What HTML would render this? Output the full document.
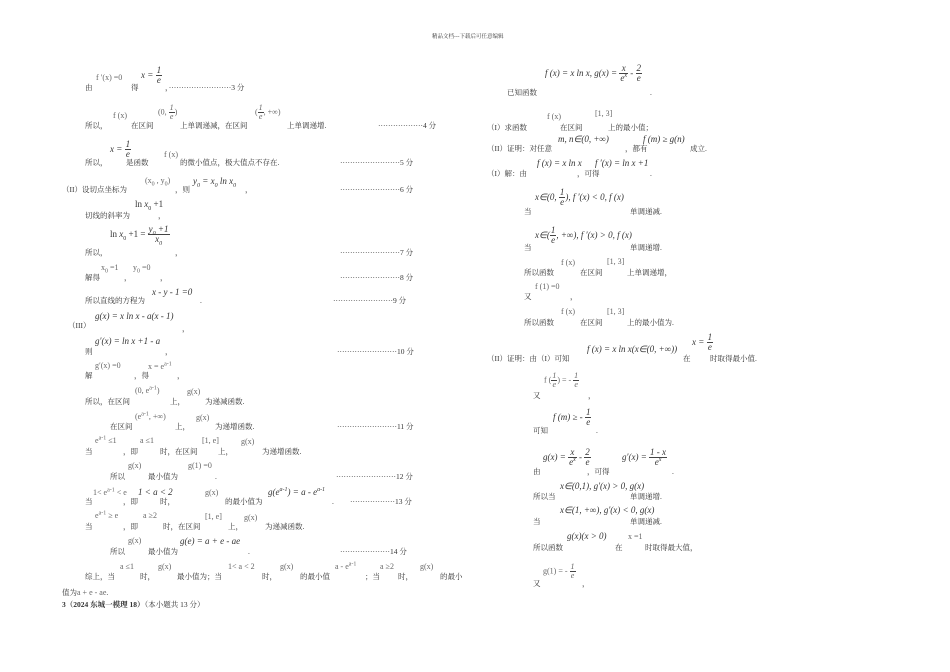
<!DOCTYPE html>
<html><head><meta charset="utf-8"><style>
body{margin:0;background:#fff;}
#p{position:relative;width:950px;height:672px;overflow:hidden;background:#fff;color:#222;font-family:"Liberation Serif","Noto Serif CJK SC",serif;}
#p>span{position:absolute;white-space:nowrap;line-height:1;}
span span{position:static;}
.c{font-size:7.5px;font-family:"Liberation Serif","Noto Serif CJK SC",serif;color:#333}
.m{font-size:9px;font-style:italic;font-family:"Liberation Serif",serif;color:#333}
.mg{font-size:8px;font-family:"Liberation Serif",serif;color:#666}
.f{display:inline-block;vertical-align:middle;text-align:center;font-style:italic;line-height:1.05}
.f b{display:block;font-weight:normal;padding:0 1px}
.f b:first-child{border-bottom:0.8px solid #444}
sub,sup{font-size:6px;line-height:0}
.b{font-weight:bold}
</style></head><body><div id="p">
<span class="c" style="left:432px;top:35px;font-size:5.5px">精品文档---下载后可任意编辑</span>

<span class="c" style="left:85px;top:84px">由</span>
<span class="mg" style="left:96px;top:74px">f ′(x) =0</span>
<span class="c" style="left:131px;top:84px">得</span>
<span class="m" style="left:141px;top:66px">x = <span class="f"><b>1</b><b>e</b></span></span>
<span class="c" style="left:165px;top:84px">，·························3 分</span>

<span class="c" style="left:85px;top:122px">所以，</span>
<span class="mg" style="left:113px;top:112px">f (x)</span>
<span class="c" style="left:131px;top:122px">在区间</span>
<span class="mg" style="left:158px;top:104px">(0, <span class="f"><b>1</b><b>e</b></span>)</span>
<span class="c" style="left:180px;top:122px">上单调递减，在区间</span>
<span class="mg" style="left:255px;top:104px">(<span class="f"><b>1</b><b>e</b></span>, +∞)</span>
<span class="c" style="left:287px;top:122px">上单调递增.</span>
<span class="c" style="left:378px;top:122px">··················4 分</span>

<span class="c" style="left:85px;top:159px">所以，</span>
<span class="m" style="left:110px;top:140px">x = <span class="f"><b>1</b><b>e</b></span></span>
<span class="c" style="left:126px;top:159px">是函数</span>
<span class="mg" style="left:164px;top:151px">f (x)</span>
<span class="c" style="left:180px;top:159px">的微小值点，极大值点不存在.</span>
<span class="c" style="left:340px;top:159px">························5 分</span>

<span class="c" style="left:62px;top:186px">（II）设切点坐标为</span>
<span class="mg" style="left:145px;top:177px">(x<sub>0</sub> , y<sub>0</sub>)</span>
<span class="c" style="left:175px;top:186px">，则</span>
<span class="m" style="left:193px;top:177px">y<sub>0</sub> = x<sub>0</sub> ln x<sub>0</sub></span>
<span class="c" style="left:245px;top:186px">，</span>
<span class="c" style="left:340px;top:186px">························6 分</span>

<span class="c" style="left:85px;top:212px">切线的斜率为</span>
<span class="m" style="left:135px;top:200px;font-style:normal">ln <i>x</i><sub>0</sub> +1</span>
<span class="c" style="left:158px;top:212px">，</span>

<span class="c" style="left:85px;top:249px">所以，</span>
<span class="m" style="left:110px;top:225px;font-style:normal">ln <i>x</i><sub>0</sub> +1 = <span class="f"><b>y<sub>0</sub> +1</b><b>x<sub>0</sub></b></span></span>
<span class="c" style="left:175px;top:249px">，</span>
<span class="c" style="left:340px;top:249px">························7 分</span>

<span class="c" style="left:85px;top:274px">解得</span>
<span class="mg" style="left:101px;top:264px">x<sub>0</sub> =1</span>
<span class="c" style="left:124px;top:274px">，</span>
<span class="mg" style="left:133px;top:264px">y<sub>0</sub> =0</span>
<span class="c" style="left:160px;top:274px">，</span>
<span class="c" style="left:340px;top:274px">························8 分</span>

<span class="c" style="left:85px;top:297px">所以直线的方程为</span>
<span class="m" style="left:152px;top:288px">x - y - 1 =0</span>
<span class="c" style="left:200px;top:297px">.</span>
<span class="c" style="left:333px;top:297px">························9 分</span>

<span class="c" style="left:68px;top:322px">（III）</span>
<span class="m" style="left:95px;top:312px">g(x) = x ln x - a(x - 1)</span>
<span class="c" style="left:182px;top:325px">，</span>

<span class="c" style="left:85px;top:348px">则</span>
<span class="m" style="left:95px;top:337px">g′(x) = ln x +1 - a</span>
<span class="c" style="left:165px;top:348px">，</span>
<span class="c" style="left:337px;top:348px">························10 分</span>

<span class="c" style="left:85px;top:372px">解</span>
<span class="mg" style="left:95px;top:362px">g′(x) =0</span>
<span class="c" style="left:134px;top:372px">，得</span>
<span class="mg" style="left:148px;top:363px">x = e<sup>a-1</sup></span>
<span class="c" style="left:177px;top:372px">，</span>

<span class="c" style="left:85px;top:398px">所以，在区间</span>
<span class="mg" style="left:135px;top:387px">(0, e<sup>a-1</sup>)</span>
<span class="c" style="left:170px;top:398px">上，</span>
<span class="mg" style="left:187px;top:388px">g(x)</span>
<span class="c" style="left:205px;top:398px">为递减函数.</span>

<span class="c" style="left:110px;top:423px">在区间</span>
<span class="mg" style="left:135px;top:413px">(e<sup>a-1</sup>, +∞)</span>
<span class="c" style="left:175px;top:423px">上，</span>
<span class="mg" style="left:196px;top:414px">g(x)</span>
<span class="c" style="left:215px;top:423px">为递增函数.</span>
<span class="c" style="left:337px;top:423px">························11 分</span>

<span class="c" style="left:85px;top:448px">当</span>
<span class="mg" style="left:95px;top:437px">e<sup>a-1</sup> ≤1</span>
<span class="c" style="left:123px;top:448px">，即</span>
<span class="mg" style="left:140px;top:437px">a ≤1</span>
<span class="c" style="left:160px;top:448px">时，在区间</span>
<span class="mg" style="left:202px;top:437px">[1, e]</span>
<span class="c" style="left:218px;top:448px">上，</span>
<span class="mg" style="left:241px;top:438px">g(x)</span>
<span class="c" style="left:262px;top:448px">为递增函数.</span>

<span class="c" style="left:110px;top:473px">所以</span>
<span class="mg" style="left:128px;top:462px">g(x)</span>
<span class="c" style="left:148px;top:473px">最小值为</span>
<span class="mg" style="left:188px;top:462px">g(1) =0</span>
<span class="c" style="left:215px;top:473px">.</span>
<span class="c" style="left:336px;top:473px">························12 分</span>

<span class="c" style="left:85px;top:498px">当</span>
<span class="mg" style="left:93px;top:489px">1&lt; e<sup>a-1</sup> &lt; e</span>
<span class="c" style="left:123px;top:498px">，即</span>
<span class="m" style="left:138px;top:488px">1 &lt; a &lt; 2</span>
<span class="c" style="left:160px;top:498px">时，</span>
<span class="mg" style="left:205px;top:489px">g(x)</span>
<span class="c" style="left:225px;top:498px">的最小值为</span>
<span class="m" style="left:268px;top:488px">g(e<sup>a-1</sup>) = a - e<sup>a-1</sup></span>
<span class="c" style="left:332px;top:498px">.</span>
<span class="c" style="left:350px;top:498px">··················13 分</span>

<span class="c" style="left:85px;top:523px">当</span>
<span class="mg" style="left:95px;top:512px">e<sup>a-1</sup> ≥ e</span>
<span class="c" style="left:123px;top:523px">，即</span>
<span class="mg" style="left:143px;top:512px">a ≥2</span>
<span class="c" style="left:163px;top:523px">时，在区间</span>
<span class="mg" style="left:205px;top:513px">[1, e]</span>
<span class="c" style="left:228px;top:523px">上，</span>
<span class="mg" style="left:244px;top:514px">g(x)</span>
<span class="c" style="left:265px;top:523px">为递减函数.</span>

<span class="c" style="left:110px;top:548px">所以</span>
<span class="mg" style="left:128px;top:537px">g(x)</span>
<span class="c" style="left:148px;top:548px">最小值为</span>
<span class="m" style="left:180px;top:537px">g(e) = a + e - ae</span>
<span class="c" style="left:248px;top:548px">.</span>
<span class="c" style="left:340px;top:548px">····················14 分</span>

<span class="c" style="left:85px;top:573px">综上，当</span>
<span class="mg" style="left:120px;top:563px">a ≤1</span>
<span class="c" style="left:140px;top:573px">时，</span>
<span class="mg" style="left:158px;top:563px">g(x)</span>
<span class="c" style="left:177px;top:573px">最小值为；当</span>
<span class="mg" style="left:228px;top:563px">1&lt; a &lt; 2</span>
<span class="c" style="left:262px;top:573px">时，</span>
<span class="mg" style="left:280px;top:563px">g(x)</span>
<span class="c" style="left:300px;top:573px">的最小值</span>
<span class="mg" style="left:335px;top:563px">a - e<sup>a-1</sup></span>
<span class="c" style="left:365px;top:573px">；当</span>
<span class="mg" style="left:380px;top:563px">a ≥2</span>
<span class="c" style="left:398px;top:573px">时，</span>
<span class="mg" style="left:420px;top:563px">g(x)</span>
<span class="c" style="left:440px;top:573px">的最小</span>
<span class="c" style="left:62px;top:589px">值为<span class="mg">a + e - ae</span>.</span>
<span class="c" style="left:62px;top:601px"><span class="b">3（2024 东城一模理 18）</span>（本小题共 13 分）</span>

<span class="m" style="left:545px;top:64px">f (x) = x ln x, g(x) = <span class="f"><b>x</b><b>e<sup>x</sup></b></span> - <span class="f"><b>2</b><b>e</b></span></span>
<span class="c" style="left:507px;top:89px">已知函数</span>
<span class="c" style="left:650px;top:89px">.</span>

<span class="c" style="left:487px;top:124px">（I）求函数</span>
<span class="mg" style="left:547px;top:113px">f (x)</span>
<span class="c" style="left:560px;top:124px">在区间</span>
<span class="mg" style="left:595px;top:110px">[1, 3]</span>
<span class="c" style="left:608px;top:124px">上的最小值；</span>

<span class="c" style="left:487px;top:145px">（II）证明：对任意</span>
<span class="m" style="left:558px;top:135px">m, n∈(0, +∞)</span>
<span class="c" style="left:625px;top:145px">，都有</span>
<span class="m" style="left:643px;top:135px">f (m) ≥ g(n)</span>
<span class="c" style="left:690px;top:145px">成立.</span>

<span class="c" style="left:487px;top:170px">（I）解：由</span>
<span class="m" style="left:537px;top:159px">f (x) = x ln x</span>
<span class="c" style="left:577px;top:170px">，可得</span>
<span class="m" style="left:595px;top:159px">f ′(x) = ln x +1</span>
<span class="c" style="left:650px;top:170px">.</span>

<span class="c" style="left:524px;top:208px">当</span>
<span class="m" style="left:535px;top:188px">x∈(0, <span class="f"><b>1</b><b>e</b></span>), f ′(x) &lt; 0, f (x)</span>
<span class="c" style="left:630px;top:208px">单调递减.</span>

<span class="c" style="left:524px;top:244px">当</span>
<span class="m" style="left:535px;top:226px">x∈(<span class="f"><b>1</b><b>e</b></span>, +∞), f ′(x) &gt; 0, f (x)</span>
<span class="c" style="left:630px;top:244px">单调递增.</span>

<span class="c" style="left:524px;top:269px">所以函数</span>
<span class="mg" style="left:561px;top:259px">f (x)</span>
<span class="c" style="left:580px;top:269px">在区间</span>
<span class="mg" style="left:607px;top:258px">[1, 3]</span>
<span class="c" style="left:627px;top:269px">上单调递增，</span>

<span class="c" style="left:524px;top:293px">又</span>
<span class="mg" style="left:535px;top:283px">f (1) =0</span>
<span class="c" style="left:570px;top:293px">，</span>

<span class="c" style="left:524px;top:319px">所以函数</span>
<span class="mg" style="left:561px;top:308px">f (x)</span>
<span class="c" style="left:580px;top:319px">在区间</span>
<span class="mg" style="left:607px;top:308px">[1, 3]</span>
<span class="c" style="left:627px;top:319px">上的最小值为.</span>

<span class="c" style="left:487px;top:355px">（II）证明：由（I）可知</span>
<span class="m" style="left:587px;top:345px">f (x) = x ln x(x∈(0, +∞))</span>
<span class="c" style="left:683px;top:355px">在</span>
<span class="m" style="left:692px;top:333px">x = <span class="f"><b>1</b><b>e</b></span></span>
<span class="c" style="left:710px;top:355px">时取得最小值.</span>

<span class="c" style="left:533px;top:392px">又</span>
<span class="mg" style="left:544px;top:372px">f (<span class="f"><b>1</b><b>e</b></span>) = - <span class="f"><b>1</b><b>e</b></span></span>
<span class="c" style="left:588px;top:392px">，</span>

<span class="c" style="left:533px;top:427px">可知</span>
<span class="m" style="left:553px;top:408px">f (m) ≥ - <span class="f"><b>1</b><b>e</b></span></span>
<span class="c" style="left:596px;top:427px">.</span>

<span class="c" style="left:533px;top:468px">由</span>
<span class="m" style="left:543px;top:448px">g(x) = <span class="f"><b>x</b><b>e<sup>x</sup></b></span> - <span class="f"><b>2</b><b>e</b></span></span>
<span class="c" style="left:587px;top:468px">，可得</span>
<span class="m" style="left:622px;top:448px">g′(x) = <span class="f"><b>1 - x</b><b>e<sup>x</sup></b></span></span>
<span class="c" style="left:672px;top:468px">.</span>

<span class="c" style="left:533px;top:493px">所以当</span>
<span class="m" style="left:560px;top:482px">x∈(0,1), g′(x) &gt; 0, g(x)</span>
<span class="c" style="left:630px;top:493px">单调递增.</span>

<span class="c" style="left:533px;top:518px">当</span>
<span class="m" style="left:560px;top:506px">x∈(1, +∞), g′(x) &lt; 0, g(x)</span>
<span class="c" style="left:630px;top:518px">单调递减.</span>

<span class="c" style="left:533px;top:544px">所以函数</span>
<span class="m" style="left:567px;top:532px">g(x)(x &gt; 0)</span>
<span class="c" style="left:615px;top:544px">在</span>
<span class="mg" style="left:628px;top:533px">x =1</span>
<span class="c" style="left:645px;top:544px">时取得最大值，</span>

<span class="c" style="left:533px;top:580px">又</span>
<span class="mg" style="left:543px;top:563px">g(1) = - <span class="f"><b>1</b><b>e</b></span></span>
<span class="c" style="left:582px;top:580px">，</span>
</div></body></html>
